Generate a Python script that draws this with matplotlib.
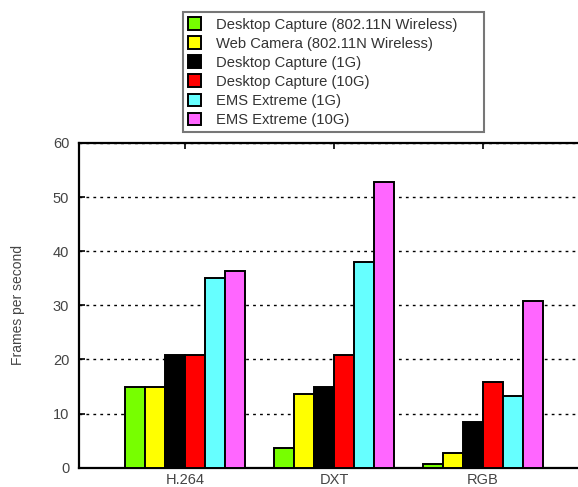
import matplotlib.pyplot as plt
import numpy as np

plt.rcParams['font.family'] = ['Liberation Sans', 'DejaVu Sans']

categories = ["H.264", "DXT", "RGB"]
series = ["Desktop Capture (802.11N Wireless)", "Web Camera (802.11N Wireless)",
          "Desktop Capture (1G)", "Desktop Capture (10G)",
          "EMS Extreme (1G)", "EMS Extreme (10G)"]
colors = ["#77ff00", "#ffff00", "#000000", "#ff0000", "#66ffff", "#ff66ff"]

desktop_wireless = [15.0, 3.6, 0.7]
webcam_wireless = [15.0, 13.6, 2.7]
desktop_1g = [20.8, 15.0, 8.5]
desktop_10g = [20.8, 20.9, 15.9]
ems_1g = [35.0, 38.0, 13.2]
ems_10g = [36.3, 52.7, 30.8]
values = [desktop_wireless, webcam_wireless, desktop_1g, desktop_10g, ems_1g, ems_10g]

fig = plt.figure(figsize=(5.78, 4.87), dpi=100)
ax = fig.add_axes([0.1367, 0.0396, 0.882, 0.667])

x = np.arange(len(categories))
w = 0.134
handles = []
for k, (vals, c, lab) in enumerate(zip(values, colors, series)):
    h = ax.bar(x + (k - 2.5) * w, vals, w, color=c, edgecolor="black", linewidth=1.4,
               label=lab, zorder=3)
    handles.append(h)

ax.set_xlim(-0.711, 2.71)
ax.set_ylim(0, 60)
ax.set_yticks(range(0, 61, 10))
ax.set_xticks(x)
ax.set_xticklabels(categories)
ax.tick_params(axis="both", direction="in", labelsize=10.5, labelcolor="#444444",
               top=True, length=4, width=1.2)
ax.tick_params(axis="y", pad=7)
ax.tick_params(axis="x", pad=4)
ax.yaxis.grid(True, linestyle=(0, (2, 3)), color="black", linewidth=1)
for s in ax.spines.values():
    s.set_linewidth(1.6)
ax.set_ylabel("Frames per second", fontsize=10, color="#444444", labelpad=20)

leg = fig.legend(handles=handles, loc="upper left",
                 bbox_to_anchor=(0.3166, 0.729, 0.5208, 0.246), mode="expand",
                 fontsize=10.6, frameon=True, fancybox=False, handlelength=0.9,
                 handleheight=0.9, handletextpad=1.0, labelspacing=0.33,
                 borderpad=0.35, borderaxespad=0, labelcolor="#333333")
leg.get_frame().set_edgecolor("#555555")
leg.get_frame().set_linewidth(1.5)

fig.savefig("out.png", dpi=100)
